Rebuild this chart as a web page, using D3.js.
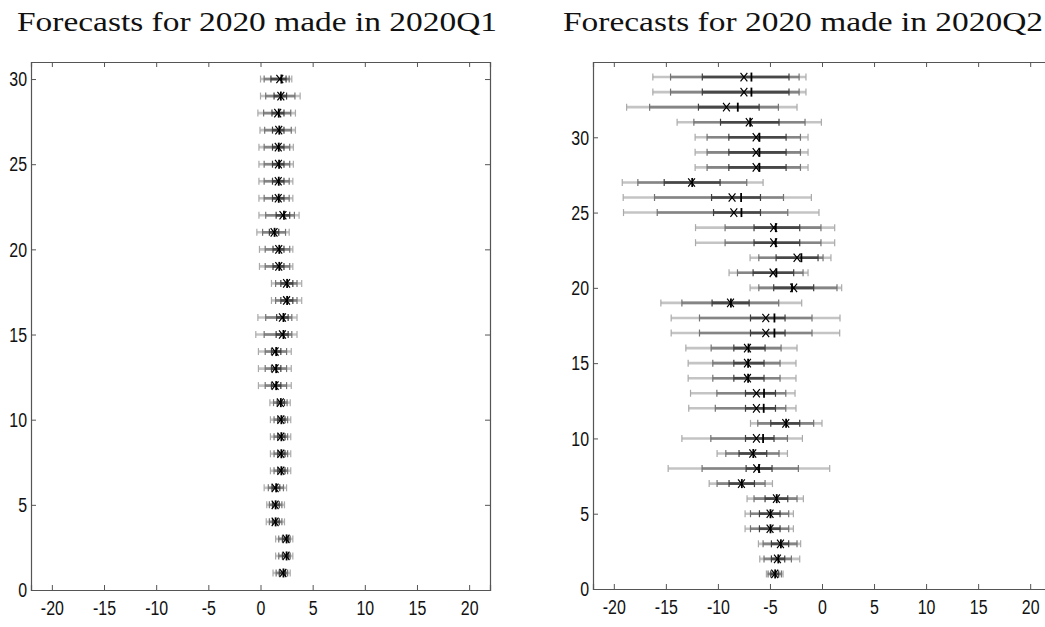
<!DOCTYPE html>
<html>
<head>
<meta charset="utf-8">
<script src="https://cdn.jsdelivr.net/npm/d3@7"></script>
<style>
  body { margin: 0; background: #fff; }
  svg { display: block; }
</style>
</head>
<body>
<div class="chart"></div>
<script>
// ticks
const xTicks = [-20, -15, -10, -5, 0, 5, 10, 15, 20]
const yTicksQ1 = [0, 5, 10, 15, 20, 25, 30]
const yTicksQ2 = [0, 5, 10, 15, 20, 25, 30]

// 2020Q1 panel, rows 1..30 (bottom to top)
const q1LightLo = [1.2, 1.45, 1.45, 0.55, 0.6, 0.35, 0.95, 0.95, 0.95, 0.95, 0.9, -0.2, -0.2, -0.2, -0.45, -0.25, 1.05, 1.05, -0.1, -0.1, -0.35, -0.15, -0.15, -0.15, -0.15, -0.15, -0.05, -0.25, 0.0, 0.0]
const q1LightHi = [2.85, 3.1, 3.1, 2.3, 2.3, 2.5, 2.9, 2.9, 2.9, 2.9, 2.85, 2.95, 2.95, 2.95, 3.5, 3.5, 3.95, 3.95, 3.1, 3.1, 2.75, 3.7, 3.1, 3.1, 3.15, 3.15, 3.35, 3.35, 3.8, 3.0]
const q1MedLo = [1.5, 1.75, 1.75, 0.85, 0.85, 0.75, 1.3, 1.3, 1.3, 1.3, 1.25, 0.45, 0.45, 0.45, 0.35, 0.5, 1.45, 1.45, 0.45, 0.45, 0.2, 0.5, 0.35, 0.35, 0.35, 0.35, 0.4, 0.3, 0.5, 0.35]
const q1MedHi = [2.6, 2.85, 2.85, 2.05, 2.05, 2.2, 2.6, 2.6, 2.6, 2.6, 2.55, 2.5, 2.5, 2.5, 3.0, 3.0, 3.5, 3.5, 2.8, 2.8, 2.4, 3.25, 2.75, 2.75, 2.8, 2.8, 2.95, 2.9, 3.3, 2.75]
const q1DarkLo = [1.8, 2.1, 2.1, 1.15, 1.15, 1.1, 1.65, 1.65, 1.65, 1.65, 1.6, 1.05, 1.05, 1.05, 1.5, 1.55, 1.95, 1.95, 1.2, 1.2, 0.85, 1.5, 1.15, 1.15, 1.15, 1.15, 1.15, 1.1, 1.3, 1.0]
const q1DarkHi = [2.4, 2.7, 2.7, 1.8, 1.8, 1.85, 2.35, 2.35, 2.35, 2.35, 2.3, 1.95, 1.95, 1.95, 2.65, 2.65, 3.1, 3.1, 2.25, 2.25, 1.75, 2.8, 2.25, 2.25, 2.25, 2.25, 2.25, 2.25, 2.5, 2.45]
const q1Mean = [2.15, 2.45, 2.45, 1.4, 1.4, 1.4, 1.95, 1.95, 1.95, 1.95, 1.9, 1.4, 1.4, 1.4, 2.1, 2.1, 2.5, 2.5, 1.75, 1.75, 1.3, 2.15, 1.7, 1.7, 1.72, 1.7, 1.75, 1.65, 1.95, 1.85]
const q1Median = [2.2, 2.5, 2.5, 1.45, 1.45, 1.5, 2.0, 2.0, 2.0, 2.0, 1.95, 1.5, 1.5, 1.5, 2.2, 2.2, 2.55, 2.55, 1.8, 1.8, 1.35, 2.25, 1.75, 1.75, 1.78, 1.75, 1.8, 1.75, 1.95, 2.0]

// 2020Q2 panel, rows 1..34 (bottom to top)
const q2LightLo = [-5.34, -5.98, -6.11, -7.39, -7.39, -7.2, -10.84, -14.78, -10.08, -13.46, -6.87, -12.8, -12.63, -12.86, -12.86, -13.08, -14.49, -14.49, -15.48, -6.91, -8.93, -6.91, -12.15, -12.15, -19.07, -19.1, -19.19, -12.19, -12.19, -12.19, -13.92, -18.77, -16.25, -16.25]
const q2LightHi = [-3.74, -2.14, -2.05, -2.75, -2.75, -1.79, -4.76, 0.74, -3.32, -1.88, 0.0, -2.5, -2.59, -2.5, -2.5, -2.4, 1.7, 1.73, -1.95, 1.89, -1.34, 0.86, 1.22, 1.22, -0.29, -1.02, -5.66, -1.34, -1.34, -1.34, -0.06, -2.4, -1.54, -1.54]
const q2MedLo = [-5.18, -5.57, -5.66, -6.87, -6.87, -6.53, -10.08, -11.52, -9.24, -10.68, -6.17, -10.25, -10.1, -10.49, -10.49, -10.65, -11.77, -11.77, -13.46, -6.07, -8.12, -6.07, -9.31, -9.31, -15.83, -16.09, -17.69, -11.04, -11.04, -11.04, -12.31, -16.56, -14.55, -14.55]
const q2MedHi = [-3.9, -2.94, -2.4, -3.2, -3.2, -2.4, -5.47, -2.27, -4.13, -3.32, -0.8, -3.48, -3.48, -4.03, -4.03, -3.93, -0.96, -0.96, -4.16, 1.44, -1.82, 0.1, -0.1, -0.1, -3.29, -3.7, -7.23, -2.07, -2.07, -2.07, -1.63, -4.19, -2.2, -2.2]
const q2DarkLo = [-4.92, -4.86, -4.86, -6.01, -6.01, -5.47, -8.93, -7.29, -7.97, -7.35, -4.92, -7.35, -7.35, -8.47, -8.47, -8.47, -6.87, -6.87, -10.56, -4.64, -6.62, -4.41, -6.53, -6.53, -10.42, -10.61, -15.16, -8.95, -8.95, -8.95, -9.75, -11.87, -11.5, -11.5]
const q2DarkHi = [-4.16, -3.58, -3.2, -4.03, -4.03, -3.29, -6.49, -4.8, -5.31, -4.61, -2.14, -4.47, -4.47, -5.57, -5.57, -5.47, -3.55, -3.55, -7.0, -0.8, -2.72, -0.38, -2.14, -2.14, -5.91, -5.91, -9.79, -3.45, -3.45, -3.45, -4.13, -6.04, -3.17, -3.17]
const q2Mean = [-4.54, -4.28, -3.99, -4.99, -4.99, -4.38, -7.74, -6.27, -6.65, -6.3, -3.48, -6.3, -6.3, -7.16, -7.16, -7.16, -5.4, -5.4, -8.79, -2.72, -4.7, -2.4, -4.64, -4.64, -8.47, -8.64, -12.53, -6.33, -6.33, -6.33, -6.99, -9.18, -7.5, -7.5]
const q2Median = [-4.5, -4.2, -3.95, -4.95, -4.95, -4.35, -7.7, -6.05, -6.6, -5.66, -3.45, -5.6, -5.57, -7.1, -7.1, -7.06, -4.57, -4.57, -8.75, -2.88, -4.38, -1.98, -4.44, -4.44, -7.74, -7.77, -12.47, -6.01, -6.01, -6.01, -6.9, -8.09, -6.78, -6.78]

const width = 1045
const height = 627
const lightColor = "#c4c4c4"
const medColor = "#858585"
const darkColor = "#474747"
const axisColor = "#555"

let svg = d3.select(".chart")
    .append("svg")
    .attr("width", width)
    .attr("height", height)

// build rows from the arrays
function makeRows(lLo, lHi, mLo, mHi, dLo, dHi, mean, med) {
    return lLo.map((v, i) => ({
        row: i + 1,
        bands: [
            { lo: v, hi: lHi[i], color: lightColor },
            { lo: mLo[i], hi: mHi[i], color: medColor },
            { lo: dLo[i], hi: dHi[i], color: darkColor }
        ],
        mean: mean[i],
        median: med[i]
    }))
}

function drawPanel(opts) {
    const x = d3.scaleLinear().domain([-22, 22]).range([opts.left, opts.right])
    const y = d3.scaleLinear().domain([0, opts.yMax]).range([opts.bottom, opts.top])

    const g = svg.append("g")

    // Title
    g.append("text")
        .text(opts.title)
        .attr("x", opts.titleX)
        .attr("y", 31)
        .attr("text-anchor", opts.titleAnchor)
        .attr("font-family", "'Liberation Serif', 'DejaVu Serif', serif")
        .attr("font-size", 27)
        .attr("textLength", 480)
        .attr("lengthAdjust", "spacingAndGlyphs")
        .attr("fill", "#111")

    // Axes (inward ticks, box all round)
    const fmt = d => String(d)
    const xAxis = d3.axisBottom(x).tickValues(xTicks).tickSize(-5).tickPadding(10).tickFormat(fmt)
    const yAxis = d3.axisLeft(y).tickValues(opts.yTicks).tickSize(-5).tickPadding(4).tickFormat(fmt)

    const gx = g.append("g")
        .attr("transform", `translate(0, ${opts.bottom})`)
        .call(xAxis)
    const gy = g.append("g")
        .attr("transform", `translate(${opts.left}, 0)`)
        .call(yAxis)
    g.append("g")
        .attr("transform", `translate(0, ${opts.top})`)
        .call(d3.axisTop(x).tickValues(xTicks).tickSize(-5).tickFormat(""))
    g.append("g")
        .attr("transform", `translate(${opts.right}, 0)`)
        .call(d3.axisRight(y).tickValues(opts.yTicks).tickSize(-5).tickFormat(""))

    g.selectAll(".domain").attr("stroke", axisColor).attr("stroke-width", 1.2)
    g.selectAll(".tick line").attr("stroke", axisColor)
    g.selectAll(".tick text")
        .attr("fill", "#111")
        .attr("font-family", "'Liberation Sans', Arial, sans-serif")
        .attr("font-size", 21)
        .style("transform-box", "fill-box")
        .style("transform", "scaleX(0.76)")
    gx.selectAll(".tick text")
        .attr("dy", "0.71em")
        .style("transform-origin", "50% 50%")
    gy.selectAll(".tick text")
        .style("transform-origin", "100% 50%")

    // Bars
    const rowG = g.selectAll("g.row")
        .data(opts.rows)
        .join("g")
        .attr("class", "row")
        .attr("transform", d => `translate(0, ${y(d.row)})`)

    const band = rowG.selectAll("g.band")
        .data(d => d.bands)
        .join("g")
        .attr("class", "band")

    band.append("line")
        .attr("x1", d => x(d.lo))
        .attr("x2", d => x(d.hi))
        .attr("stroke", d => d.color)
        .attr("stroke-width", 2.6)

    band.selectAll("line.cap")
        .data(d => [d.lo, d.hi].map(v => ({ v: v, color: d.color })))
        .join("line")
        .attr("class", "cap")
        .attr("x1", d => x(d.v))
        .attr("x2", d => x(d.v))
        .attr("y1", -3.5)
        .attr("y2", 3.5)
        .attr("stroke", d => d3.color(d.color).darker(0.4))
        .attr("stroke-width", 1.2)

    // median marker
    rowG.append("line")
        .attr("x1", d => x(d.median))
        .attr("x2", d => x(d.median))
        .attr("y1", -4.5)
        .attr("y2", 4.5)
        .attr("stroke", "#000")
        .attr("stroke-width", 1.8)

    // mean marker (x)
    rowG.append("path")
        .attr("d", d => {
            const cx = x(d.mean), s = 3.4
            return `M${cx - s},${-s - 0.8}L${cx + s},${s + 0.8}M${cx - s},${s + 0.8}L${cx + s},${-s - 0.8}`
        })
        .attr("stroke", "#000")
        .attr("stroke-width", 1.2)
        .attr("fill", "none")
}

drawPanel({
    title: "Forecasts for 2020 made in 2020Q1",
    titleX: 257,
    titleAnchor: "middle",
    left: 31, right: 490, top: 62, bottom: 590,
    yMax: 31,
    yTicks: yTicksQ1,
    rows: makeRows(q1LightLo, q1LightHi, q1MedLo, q1MedHi, q1DarkLo, q1DarkHi, q1Mean, q1Median)
})

drawPanel({
    title: "Forecasts for 2020 made in 2020Q2",
    titleX: 1043,
    titleAnchor: "end",
    left: 593, right: 1051, top: 62, bottom: 589,
    yMax: 35,
    yTicks: yTicksQ2,
    rows: makeRows(q2LightLo, q2LightHi, q2MedLo, q2MedHi, q2DarkLo, q2DarkHi, q2Mean, q2Median)
})
</script>
</body>
</html>
